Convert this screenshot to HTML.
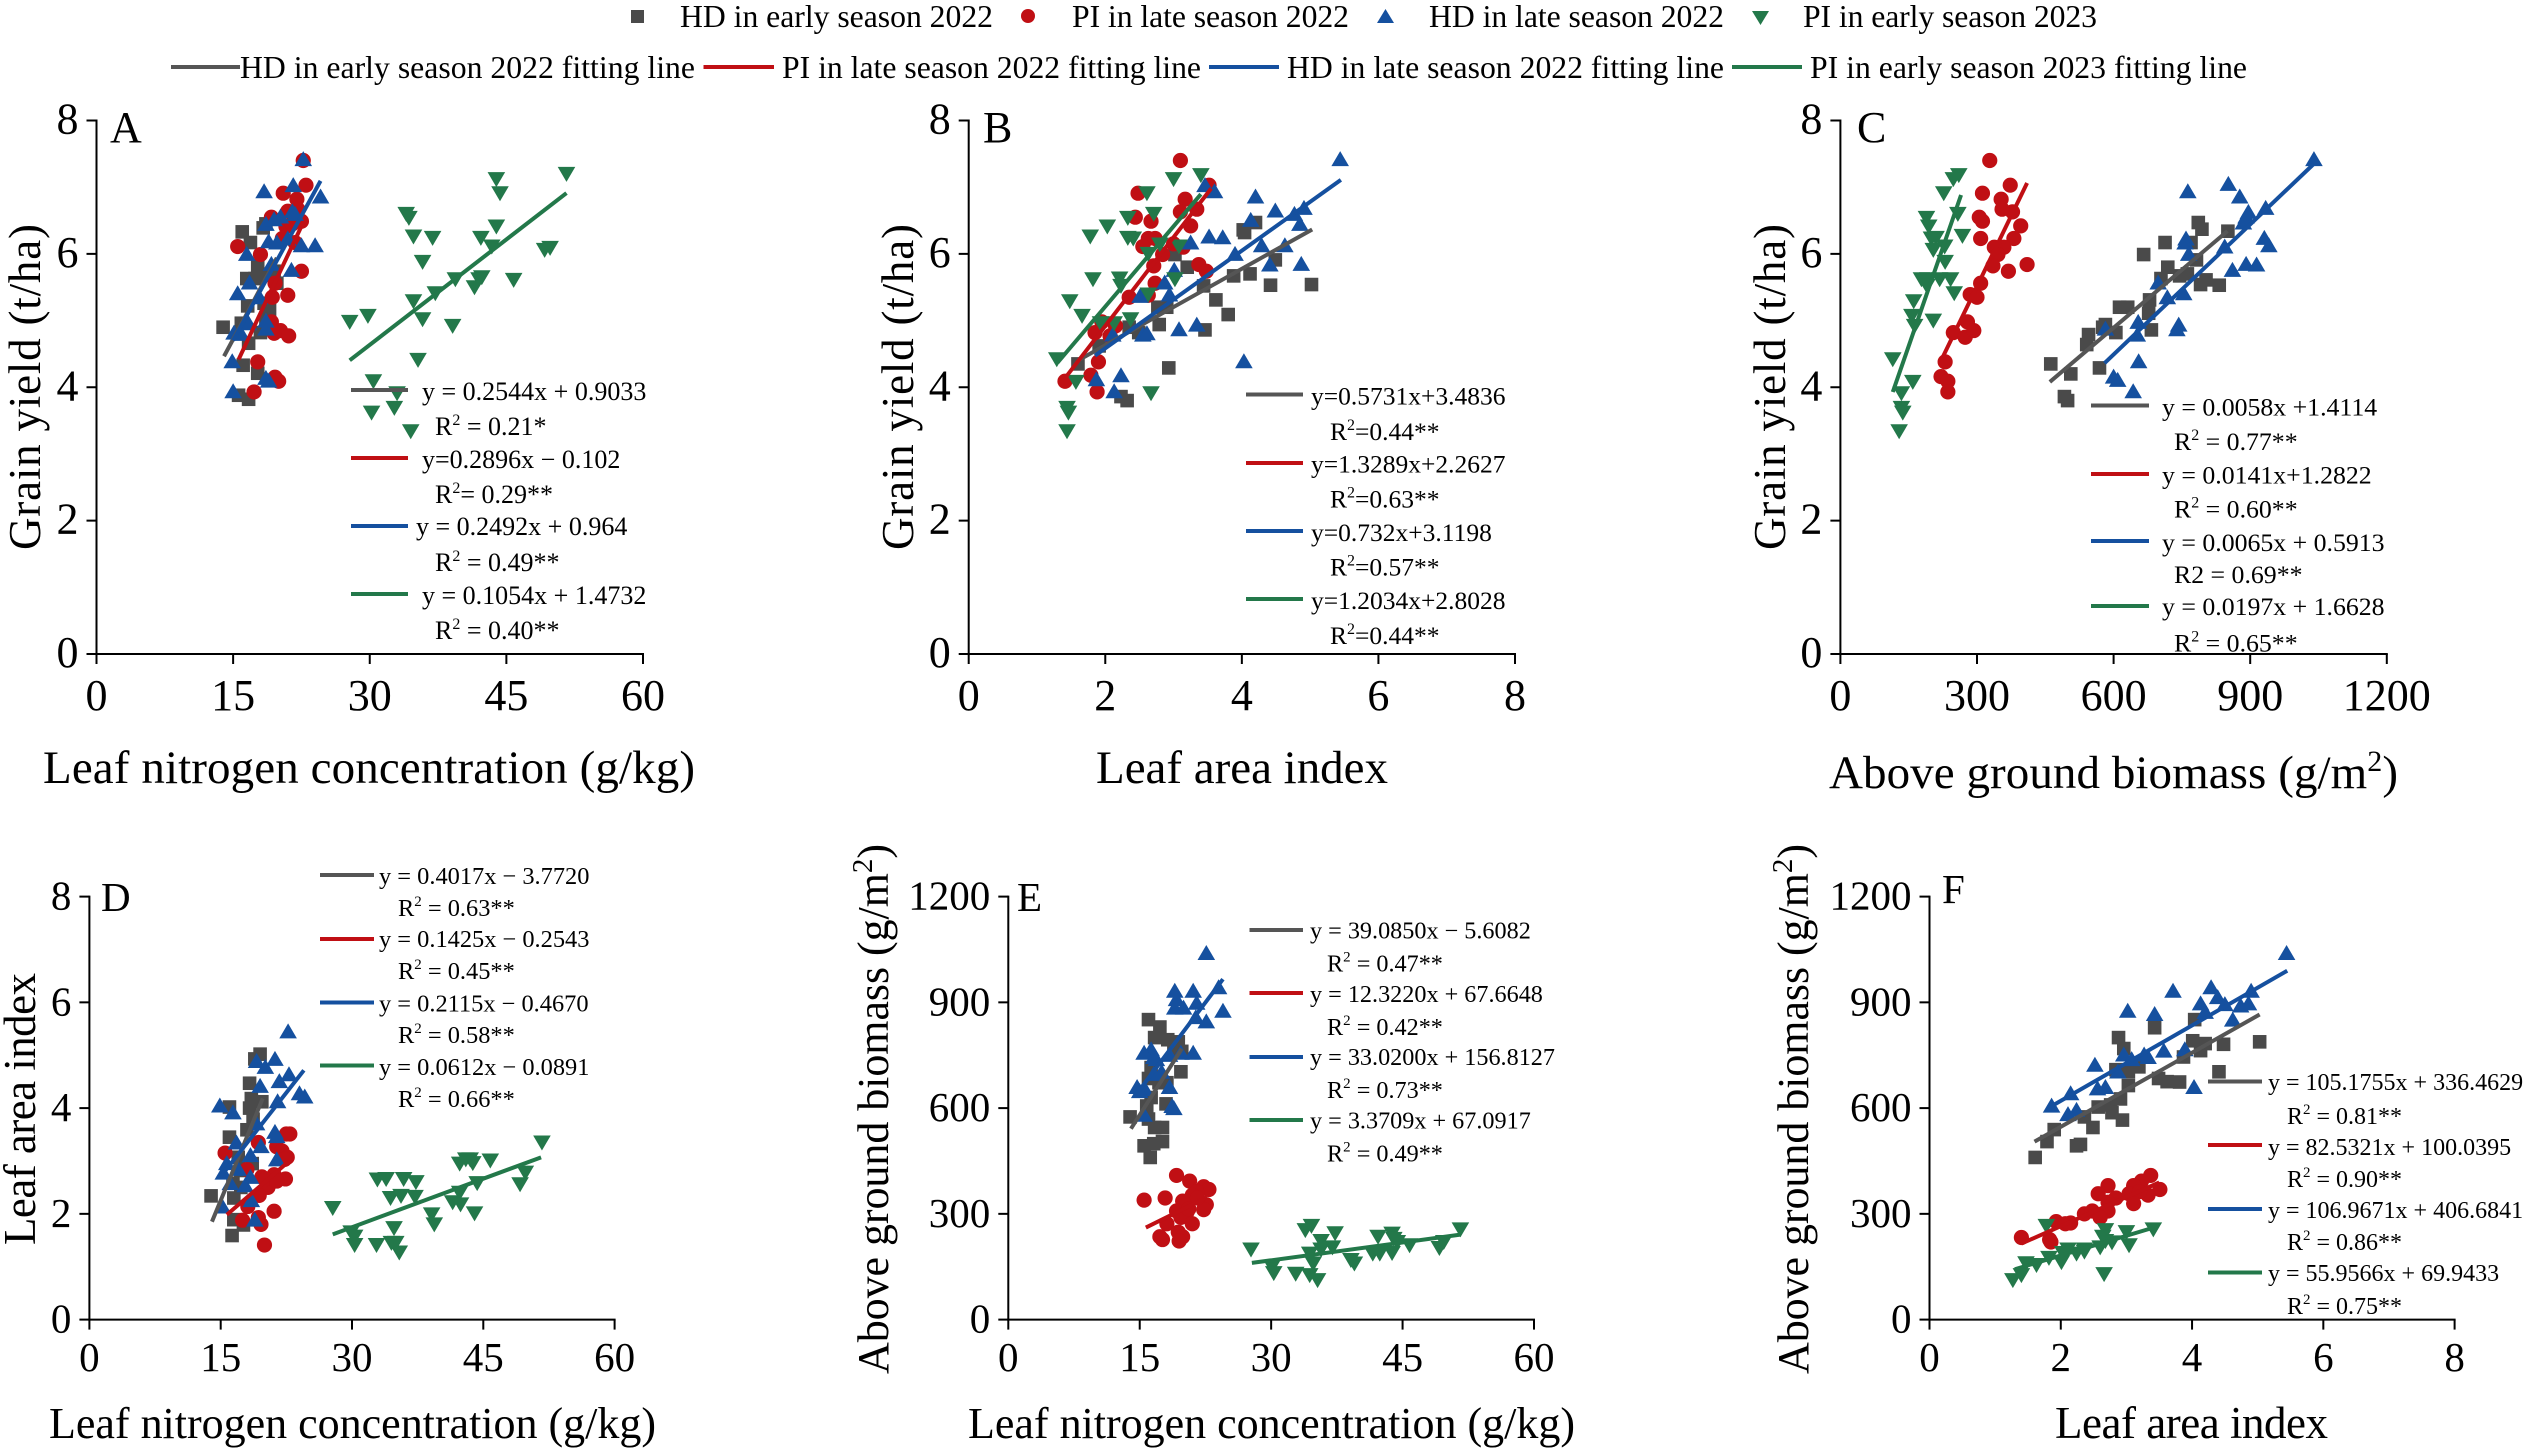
<!DOCTYPE html>
<html lang="en">
<head>
<meta charset="utf-8">
<title>Grain yield relationships</title>
<style>
html,body{margin:0;padding:0;background:#fff;}
svg{display:block;font-family:"Liberation Serif",serif;fill:#000;}
</style>
</head>
<body>
<svg id="chart" xmlns="http://www.w3.org/2000/svg" width="2531" height="1452" viewBox="0 0 2531 1452">
<rect x="0" y="0" width="2531" height="1452" fill="#fff"/>

<g id="legend" font-size="31.7">
<rect x="631" y="10" width="13" height="13" fill="#4a4a4a"/>
<text x="680" y="27" textLength="313">HD in early season 2022</text>
<circle cx="1028" cy="16" r="7" fill="#c00f14"/>
<text x="1072" y="27" textLength="277">PI in late season 2022</text>
<polygon points="1377,23 1394,23 1385.5,9" fill="#15509f"/>
<text x="1429" y="27" textLength="295">HD in late season 2022</text>
<polygon points="1752,11 1769,11 1760.5,25" fill="#23784a"/>
<text x="1803" y="27" textLength="294">PI in early season 2023</text>

<line x1="171" y1="67" x2="240" y2="67" stroke="#555" stroke-width="4"/>
<text x="240" y="78" textLength="455">HD in early season 2022 fitting line</text>
<line x1="703.5" y1="67" x2="774" y2="67" stroke="#c00f14" stroke-width="4"/>
<text x="782" y="78" textLength="419">PI in late season 2022 fitting line</text>
<line x1="1209" y1="67" x2="1279" y2="67" stroke="#15509f" stroke-width="4"/>
<text x="1287" y="78" textLength="437">HD in late season 2022 fitting line</text>
<line x1="1732" y1="67" x2="1802" y2="67" stroke="#23784a" stroke-width="4"/>
<text x="1810" y="78" textLength="437">PI in early season 2023 fitting line</text>
</g>

<g id="plots"></g>

<g font-size="44">
<text x="110" y="142">A</text>
<text x="983" y="142">B</text>
<text x="1857" y="142">C</text>
<text x="101" y="911" font-size="41">D</text>
<text x="1017" y="911" font-size="41">E</text>
<text x="1942" y="903" font-size="41">F</text>
</g>

<g font-size="47">
<text x="43" y="783" textLength="652">Leaf nitrogen concentration (g/kg)</text>
<text x="1096" y="783" textLength="292">Leaf area index</text>
<text x="1829" y="788" textLength="569">Above ground biomass (g/m<tspan font-size="30" dy="-17">2</tspan><tspan dy="17">)</tspan></text>
<text x="49" y="1438" textLength="607" font-size="44">Leaf nitrogen concentration (g/kg)</text>
<text x="968" y="1438" textLength="607" font-size="44">Leaf nitrogen concentration (g/kg)</text>
<text x="2055" y="1438" textLength="273" font-size="45">Leaf area index</text>

<text transform="translate(40 550) rotate(-90)" textLength="326" font-size="45">Grain yield (t/ha)</text>
<text transform="translate(913 550) rotate(-90)" textLength="326" font-size="45">Grain yield (t/ha)</text>
<text transform="translate(1785 550) rotate(-90)" textLength="326" font-size="45">Grain yield (t/ha)</text>
<text transform="translate(35 1245) rotate(-90)" textLength="272" font-size="45">Leaf area index</text>
<text transform="translate(888 1374) rotate(-90)" textLength="530" font-size="44">Above ground biomass (g/m<tspan font-size="29" dy="-16">2</tspan><tspan dy="16">)</tspan></text>
<text transform="translate(1808 1374) rotate(-90)" textLength="530" font-size="44">Above ground biomass (g/m<tspan font-size="29" dy="-16">2</tspan><tspan dy="16">)</tspan></text>
</g>

<g font-size="26" stroke-width="4">
<line x1="351" y1="390" x2="408" y2="390" stroke="#555"/>
<text x="422" y="400">y = 0.2544x + 0.9033</text>
<text x="435" y="435">R<tspan font-size="16" dy="-10">2</tspan><tspan dy="10"> = 0.21*</tspan></text>
<line x1="351" y1="458" x2="408" y2="458" stroke="#c00f14"/>
<text x="422" y="468">y=0.2896x − 0.102</text>
<text x="435" y="503">R<tspan font-size="16" dy="-10">2</tspan><tspan dy="10">= 0.29**</tspan></text>
<line x1="351" y1="526" x2="408" y2="526" stroke="#15509f"/>
<text x="416" y="535">y = 0.2492x + 0.964</text>
<text x="435" y="571">R<tspan font-size="16" dy="-10">2</tspan><tspan dy="10"> = 0.49**</tspan></text>
<line x1="351" y1="594" x2="408" y2="594" stroke="#23784a"/>
<text x="422" y="604">y = 0.1054x + 1.4732</text>
<text x="435" y="639">R<tspan font-size="16" dy="-10">2</tspan><tspan dy="10"> = 0.40**</tspan></text>
</g>

<g font-size="25.5" stroke-width="4">
<line x1="1246" y1="394.5" x2="1303" y2="394.5" stroke="#555"/>
<text x="1311" y="404.5">y=0.5731x+3.4836</text>
<text x="1330" y="440">R<tspan font-size="16" dy="-10">2</tspan><tspan dy="10">=0.44**</tspan></text>
<line x1="1246" y1="463" x2="1303" y2="463" stroke="#c00f14"/>
<text x="1311" y="472.5">y=1.3289x+2.2627</text>
<text x="1330" y="507.5">R<tspan font-size="16" dy="-10">2</tspan><tspan dy="10">=0.63**</tspan></text>
<line x1="1246" y1="531" x2="1303" y2="531" stroke="#15509f"/>
<text x="1311" y="541">y=0.732x+3.1198</text>
<text x="1330" y="575.5">R<tspan font-size="16" dy="-10">2</tspan><tspan dy="10">=0.57**</tspan></text>
<line x1="1246" y1="599" x2="1303" y2="599" stroke="#23784a"/>
<text x="1311" y="609">y=1.2034x+2.8028</text>
<text x="1330" y="644">R<tspan font-size="16" dy="-10">2</tspan><tspan dy="10">=0.44**</tspan></text>
</g>

<g font-size="25.8" stroke-width="4">
<line x1="2091" y1="405.5" x2="2149" y2="405.5" stroke="#555"/>
<text x="2162" y="415.5">y = 0.0058x +1.4114</text>
<text x="2174" y="450">R<tspan font-size="16" dy="-10">2</tspan><tspan dy="10"> = 0.77**</tspan></text>
<line x1="2091" y1="474" x2="2149" y2="474" stroke="#c00f14"/>
<text x="2162" y="483.5">y = 0.0141x+1.2822</text>
<text x="2174" y="517.5">R<tspan font-size="16" dy="-10">2</tspan><tspan dy="10"> = 0.60**</tspan></text>
<line x1="2091" y1="541" x2="2149" y2="541" stroke="#15509f"/>
<text x="2162" y="551">y = 0.0065x + 0.5913</text>
<text x="2174" y="583">R2 = 0.69**</text>
<line x1="2091" y1="606" x2="2149" y2="606" stroke="#23784a"/>
<text x="2162" y="615">y = 0.0197x + 1.6628</text>
<text x="2174" y="651.5">R<tspan font-size="16" dy="-10">2</tspan><tspan dy="10"> = 0.65**</tspan></text>
</g>

<g font-size="24.4" stroke-width="4">
<line x1="320" y1="875" x2="374" y2="875" stroke="#555"/>
<text x="379" y="884">y = 0.4017x − 3.7720</text>
<text x="398" y="916">R<tspan font-size="15" dy="-10">2</tspan><tspan dy="10"> = 0.63**</tspan></text>
<line x1="320" y1="939" x2="374" y2="939" stroke="#c00f14"/>
<text x="379" y="947">y = 0.1425x − 0.2543</text>
<text x="398" y="979">R<tspan font-size="15" dy="-10">2</tspan><tspan dy="10"> = 0.45**</tspan></text>
<line x1="320" y1="1002.5" x2="374" y2="1002.5" stroke="#15509f"/>
<text x="379" y="1011.5">y = 0.2115x − 0.4670</text>
<text x="398" y="1043">R<tspan font-size="15" dy="-10">2</tspan><tspan dy="10"> = 0.58**</tspan></text>
<line x1="320" y1="1065.5" x2="374" y2="1065.5" stroke="#23784a"/>
<text x="379" y="1075">y = 0.0612x − 0.0891</text>
<text x="398" y="1107">R<tspan font-size="15" dy="-10">2</tspan><tspan dy="10"> = 0.66**</tspan></text>
</g>

<g font-size="24.2" stroke-width="4">
<line x1="1249.5" y1="930" x2="1303" y2="930" stroke="#555"/>
<text x="1310" y="938.5">y = 39.0850x − 5.6082</text>
<text x="1327" y="971.5">R<tspan font-size="15" dy="-10">2</tspan><tspan dy="10"> = 0.47**</tspan></text>
<line x1="1249.5" y1="993" x2="1303" y2="993" stroke="#c00f14"/>
<text x="1310" y="1002">y = 12.3220x + 67.6648</text>
<text x="1327" y="1035">R<tspan font-size="15" dy="-10">2</tspan><tspan dy="10"> = 0.42**</tspan></text>
<line x1="1249.5" y1="1057" x2="1303" y2="1057" stroke="#15509f"/>
<text x="1310" y="1065">y = 33.0200x + 156.8127</text>
<text x="1327" y="1098">R<tspan font-size="15" dy="-10">2</tspan><tspan dy="10"> = 0.73**</tspan></text>
<line x1="1249.5" y1="1120" x2="1303" y2="1120" stroke="#23784a"/>
<text x="1310" y="1128.5">y = 3.3709x + 67.0917</text>
<text x="1327" y="1161.5">R<tspan font-size="15" dy="-10">2</tspan><tspan dy="10"> = 0.49**</tspan></text>
</g>

<g font-size="24" stroke-width="4">
<line x1="2208" y1="1081.5" x2="2262" y2="1081.5" stroke="#555"/>
<text x="2268" y="1090">y = 105.1755x + 336.4629</text>
<text x="2287" y="1124">R<tspan font-size="15" dy="-10">2</tspan><tspan dy="10"> = 0.81**</tspan></text>
<line x1="2208" y1="1145" x2="2262" y2="1145" stroke="#c00f14"/>
<text x="2268" y="1155">y = 82.5321x + 100.0395</text>
<text x="2287" y="1187">R<tspan font-size="15" dy="-10">2</tspan><tspan dy="10"> = 0.90**</tspan></text>
<line x1="2208" y1="1209" x2="2262" y2="1209" stroke="#15509f"/>
<text x="2268" y="1218">y = 106.9671x + 406.6841</text>
<text x="2287" y="1250">R<tspan font-size="15" dy="-10">2</tspan><tspan dy="10"> = 0.86**</tspan></text>
<line x1="2208" y1="1272.5" x2="2262" y2="1272.5" stroke="#23784a"/>
<text x="2268" y="1281">y = 55.9566x + 69.9433</text>
<text x="2287" y="1314">R<tspan font-size="15" dy="-10">2</tspan><tspan dy="10"> = 0.75**</tspan></text>
</g>
</svg>

<script>
// Panel A: leaf nitrogen (x) vs grain yield (y)
const aGrayX=[13.9,16.0,18.3,18.6,16.9,17.7,16.5,18.6,16.6,18.4,15.9,18.6,18.0,16.7,16.1,17.7,15.6,16.7,19.0,19.8,19.5,17.4];
const aGrayY=[4.9,6.33,6.39,6.45,6.17,5.82,5.63,5.68,5.22,5.26,4.96,5.03,4.82,4.66,4.33,4.21,3.88,3.82,5.15,5.56,5.74,5.63];
const aRedX=[22.7,23.0,20.5,22.0,19.2,21.0,22.1,22.5,20.8,15.5,18.0,21.8,20.4,22.5,19.6,19.3,21.0,19.2,19.5,20.2,21.1,17.7,17.3,19.6,20.0,21.5];
const aRedY=[7.4,7.03,6.91,6.82,6.55,6.64,6.67,6.49,6.41,6.11,5.99,6.17,6.23,5.74,5.56,5.35,5.38,4.98,4.81,4.85,4.77,4.38,3.93,4.15,4.09,6.45];
const aBlueX=[22.7,21.6,18.4,24.6,21.5,20.2,21.8,18.6,19.5,18.9,19.8,21.0,24.0,22.5,21.4,16.5,19.2,15.5,16.8,17.9,15.1,15.9,16.7,18.6,18.6,14.9,15.0,18.6,18.9];
const aBlueY=[7.42,7.03,6.94,6.86,6.64,6.56,6.6,6.45,6.52,6.19,6.17,6.23,6.13,6.13,5.76,6.0,5.85,5.41,5.57,5.35,4.82,4.8,4.96,5.0,4.88,4.39,3.94,4.14,4.1];
const aGreenX=[51.6,43.9,44.3,34.0,34.3,43.9,34.8,36.9,42.2,43.4,49.8,49.2,35.8,39.4,42.3,42.0,41.5,45.8,37.2,34.8,27.8,29.8,35.8,39.1,35.3,30.4,33.0,30.2,32.7,34.5];
const aGreenY=[7.2,7.12,6.91,6.6,6.54,6.41,6.26,6.24,6.24,6.11,6.09,6.06,5.88,5.62,5.65,5.62,5.5,5.61,5.41,5.29,4.98,5.07,5.02,4.92,4.41,4.09,3.91,3.62,3.69,3.34];

// Panel B: leaf area index (x) vs grain yield (y)
const bGrayX=[1.6,1.91,2.35,2.49,2.79,2.77,2.9,2.93,3.02,3.2,3.44,3.62,3.46,3.8,3.88,4.12,4.42,4.49,4.02,4.04,4.2,5.02,2.23,2.32];
const bGrayY=[4.35,4.62,4.9,4.82,4.94,5.2,5.2,4.29,5.99,5.8,5.52,5.31,4.86,5.09,5.67,5.7,5.53,5.91,6.36,6.32,6.47,5.54,3.86,3.8];
const bRedX=[3.1,3.52,2.48,3.17,2.44,3.1,3.34,2.67,3.25,2.63,2.73,2.55,3.0,3.14,2.84,2.71,3.37,3.48,2.73,2.35,2.63,1.95,1.85,2.15,2.07,1.9,1.79,1.41,1.88];
const bRedY=[7.4,7.03,6.91,6.82,6.55,6.63,6.67,6.49,6.42,6.23,6.23,6.11,6.15,6.1,5.99,5.82,5.84,5.74,5.56,5.35,5.38,4.98,4.82,4.92,4.77,4.38,4.18,4.09,3.93];
const bBlueX=[5.44,3.46,3.6,4.2,4.13,4.49,4.77,4.91,4.85,3.25,3.52,3.72,4.29,4.63,3.9,3.01,4.41,4.87,2.87,2.94,2.51,3.08,3.34,2.55,2.61,2.11,4.03,2.23,1.87,2.13];
const bBlueY=[7.42,7.03,6.94,6.86,6.51,6.65,6.6,6.69,6.45,6.17,6.26,6.25,6.13,6.13,6.0,5.76,5.84,5.85,5.57,5.39,5.37,4.87,4.94,4.79,4.81,4.79,4.39,4.18,4.12,3.94];
const bGreenX=[3.4,3.0,2.61,2.71,2.33,2.03,1.78,2.33,2.41,2.8,3.08,2.63,1.82,2.21,2.23,3.02,1.48,1.66,2.63,2.37,2.13,1.93,1.29,1.57,2.67,1.44,1.46,1.44];
const bGreenY=[7.18,7.12,6.91,6.6,6.54,6.41,6.26,6.24,6.23,6.14,6.11,6.0,5.62,5.63,5.52,5.62,5.29,5.07,5.39,5.02,4.96,4.96,4.42,4.08,3.91,3.69,3.62,3.34];

// Panel C: above ground biomass (x) vs grain yield (y)
const cGrayX=[462,492,499,506,569,541,545,582,605,576,683,677,679,613,631,719,704,745,762,791,803,832,666,713,770,782,786,794,851];
const cGrayY=[4.35,3.86,3.8,4.2,4.29,4.64,4.79,4.94,4.82,4.9,4.86,5.11,5.31,5.2,5.2,5.8,5.63,5.67,5.7,5.54,5.61,5.53,5.99,6.17,6.17,5.91,6.47,6.37,6.34];
const cRedX=[328,373,312,353,305,312,378,355,396,308,381,338,359,346,410,335,369,308,285,300,279,248,274,293,230,221,236,236];
const cRedY=[7.4,7.03,6.91,6.82,6.55,6.49,6.63,6.67,6.42,6.23,6.23,6.1,6.1,5.99,5.84,5.82,5.74,5.56,5.39,5.35,4.98,4.82,4.75,4.85,4.38,4.16,4.09,3.93];
const cBlueX=[1040,852,877,763,934,896,891,885,931,941,759,757,844,765,891,914,861,698,718,754,743,739,654,652,582,655,600,609,643];
const cBlueY=[7.42,7.05,6.86,6.94,6.69,6.63,6.56,6.47,6.24,6.13,6.23,6.17,6.11,6.0,5.85,5.84,5.76,5.57,5.35,5.41,4.94,4.87,4.98,4.79,4.88,4.39,4.16,4.11,3.94];
const cGreenX=[260,248,227,189,194,258,210,200,268,229,204,230,178,192,218,242,190,250,161,157,204,163,115,159,134,134,137,129];
const cGreenY=[7.18,7.12,6.91,6.54,6.41,6.6,6.24,6.23,6.27,6.11,6.06,5.88,5.62,5.62,5.62,5.62,5.52,5.41,5.29,5.07,5.0,4.92,4.42,4.08,3.91,3.69,3.62,3.34];

// Panel D: leaf nitrogen (x) vs leaf area index (y)
const dGrayX=[19.5,16.0,18.3,18.5,19.7,18.3,18.7,18.0,16.0,18.6,17.0,13.9,16.5,16.4,17.3,16.5,17.6,16.3,18.9,17.3];
const dGrayY=[5.02,4.02,4.47,4.18,4.12,4.0,3.79,3.59,3.45,2.95,3.07,2.34,2.3,2.58,2.82,1.89,1.79,1.59,4.93,2.5];
const dRedX=[22.9,22.5,19.3,15.5,21.4,22.0,22.6,22.3,18.0,19.7,21.1,22.4,20.7,20.4,19.4,21.1,18.1,17.5,19.3,19.6,20.0,20.1,21.4];
const dRedY=[3.51,3.51,3.35,3.15,3.27,3.19,3.07,3.03,2.84,2.7,2.74,2.66,2.62,2.5,2.35,2.05,2.14,1.88,1.93,1.8,1.41,2.66,2.62];
const dBlueX=[22.7,19.1,20.1,21.2,22.8,21.7,19.5,24.0,24.6,21.5,14.9,16.4,19.1,21.2,21.4,19.6,16.8,15.7,18.4,21.4,15.3,17.0,18.4,17.8,16.1,18.5,15.2,18.9];
const dBlueY=[5.45,4.89,4.78,4.93,4.64,4.51,4.42,4.28,4.22,4.13,4.05,3.92,3.71,3.55,3.47,3.28,3.35,2.96,3.11,3.03,2.78,2.85,2.7,2.54,2.58,2.26,2.14,1.89];
const dGreenX=[51.7,45.8,43.0,43.5,42.3,43.8,49.8,49.2,32.9,33.9,35.9,37.3,34.4,35.6,37.2,44.3,42.3,41.5,42.4,44.0,39.1,39.4,34.8,27.8,29.9,30.3,30.3,32.8,34.5,35.0,35.4];
const dGreenY=[3.35,3.01,3.03,3.03,2.95,2.96,2.78,2.56,2.65,2.66,2.66,2.6,2.3,2.34,2.32,2.58,2.4,2.22,2.18,2.01,1.99,1.8,1.73,2.11,1.65,1.57,1.41,1.41,1.45,1.45,1.27];

// Panel E: leaf nitrogen (x) vs above ground biomass (y)
const eGrayX=[16.0,17.3,16.7,18.2,19.4,19.8,18.9,19.7,18.1,17.2,16.3,16.0,16.3,18.0,15.8,13.9,16.0,16.7,17.6,17.6,16.6,15.5,16.2];
const eGrayY=[851,830,800,794,788,761,766,703,672,672,715,684,630,612,606,575,569,545,545,505,499,493,460];
const eRedX=[19.2,20.7,22.3,22.9,21.5,21.0,15.5,17.9,19.9,22.6,22.3,19.2,20.4,19.7,18.1,21.0,19.4,19.9,17.3,17.6,19.5,21.6,20.6];
const eRedY=[409,393,377,369,363,353,339,345,336,326,312,308,305,290,272,272,248,235,235,227,223,345,314];
const eBlueX=[22.6,24.0,19.0,21.1,19.2,21.5,19.0,20.0,24.5,21.4,22.6,16.3,15.5,16.6,16.9,21.1,19.7,18.4,17.5,16.6,14.7,15.6,18.4,15.0,18.7,15.5,18.9];
const eBlueY=[1040,943,933,933,909,899,885,885,876,858,846,767,757,745,739,757,757,751,703,697,660,654,660,648,606,581,600];
const eGreenX=[51.6,34.6,33.9,37.3,42.2,43.8,44.0,35.7,44.4,37.0,35.7,45.8,27.7,49.7,49.2,34.4,41.6,42.4,43.8,34.8,39.1,30.1,30.3,32.8,34.4,35.3,39.5];
const eGreenY=[256,266,254,245,235,244,229,223,220,205,199,211,199,220,203,187,187,187,189,159,169,150,132,130,126,112,159];

// Panel F: leaf area index (x) vs above ground biomass (y)
const fGrayX=[1.61,1.79,1.9,2.24,2.3,2.49,2.36,2.57,2.76,2.78,2.94,2.91,2.84,3.03,3.03,3.19,2.88,2.96,3.43,3.49,3.62,3.81,3.87,4.01,4.04,4.13,4.2,4.48,4.41,5.03];
const fGrayY=[460,505,539,493,497,545,575,603,609,587,566,626,709,703,664,717,800,769,828,684,675,674,745,791,851,763,783,781,703,788];
const fRedX=[3.37,3.23,2.72,3.11,2.57,3.51,3.33,2.84,3.04,3.2,3.11,2.72,2.36,2.48,2.72,2.6,1.93,2.15,2.07,1.4,1.83,1.85];
const fRedY=[409,393,380,380,357,369,353,345,357,363,329,333,300,308,308,290,278,274,272,233,227,220];
const fBlueX=[5.44,4.9,3.71,4.29,4.39,4.13,4.5,4.2,3.02,3.43,4.74,4.86,4.62,3.57,3.89,3.27,2.96,3.08,3.33,2.52,2.87,2.15,2.68,2.56,1.86,2.11,2.24,4.03];
const fBlueY=[1040,933,933,943,915,897,895,873,876,867,891,897,851,763,767,752,752,739,745,723,704,642,660,656,607,583,595,660];
const fGreenX=[3.41,3.0,2.68,1.78,2.64,2.68,2.78,3.04,2.6,2.11,2.36,2.03,2.24,1.82,2.01,1.63,1.47,1.4,1.27,2.66,2.36];
const fGreenY=[256,248,254,266,235,223,219,211,205,199,199,189,187,175,163,155,160,126,112,129,193];

// Fit lines, order gray, red, blue, green
const aSlope=[0.2544,0.2896,0.2492,0.1054], aIntercept=[0.9033,-0.102,0.964,1.4732], aFitFrom=[14,15.6,15,27.8], aFitTo=[19.8,22.7,24.6,51.6];
const bSlope=[0.5731,1.3289,0.732,1.2034], bIntercept=[3.4836,2.2627,3.1198,2.8028], bFitFrom=[1.6,1.4,1.85,1.3], bFitTo=[5.03,3.55,5.45,3.4];
const cSlope=[0.0058,0.0141,0.0065,0.0197], cIntercept=[1.4114,1.2822,0.5913,1.6628], cFitFrom=[460,225,580,115], cFitTo=[850,410,1040,265];
const dSlope=[0.4017,0.1425,0.2115,0.0612], dIntercept=[-3.772,-0.2543,-0.467,-0.0891], dFitFrom=[14,15.7,15,27.8], dFitTo=[19.8,22.7,24.5,51.6];
const eSlope=[39.085,12.322,33.02,3.3709], eIntercept=[-5.6082,67.6648,156.8127,67.0917], eFitFrom=[14,15.7,14.6,27.8], eFitTo=[19.8,22.7,24.5,51.6];
const fSlope=[105.1755,82.5321,106.9671,55.9566], fIntercept=[336.4629,100.0395,406.6841,69.9433], fFitFrom=[1.6,1.4,1.85,1.3], fFitTo=[5.03,3.5,5.45,3.4];

// Tick labels
const nitrogenTicks=[0,15,30,45,60];
const laiTicks=[0,2,4,6,8];
const biomassTicks=[0,300,600,900,1200];

const panels=[
 {id:'a',px:[96.5,643],py:[654,120.5],xt:nitrogenTicks,yt:laiTicks,lab:710,font:44,
  s:[[aGrayX,aGrayY],[aRedX,aRedY],[aBlueX,aBlueY],[aGreenX,aGreenY]],f:[aSlope,aIntercept,aFitFrom,aFitTo]},
 {id:'b',px:[968.7,1515],py:[654,120.5],xt:laiTicks,yt:laiTicks,lab:710,font:44,
  s:[[bGrayX,bGrayY],[bRedX,bRedY],[bBlueX,bBlueY],[bGreenX,bGreenY]],f:[bSlope,bIntercept,bFitFrom,bFitTo]},
 {id:'c',px:[1840.4,2386.8],py:[654,120.5],xt:biomassTicks,yt:laiTicks,lab:710,font:44,
  s:[[cGrayX,cGrayY],[cRedX,cRedY],[cBlueX,cBlueY],[cGreenX,cGreenY]],f:[cSlope,cIntercept,cFitFrom,cFitTo]},
 {id:'d',px:[89.4,614.6],py:[1319.6,896.6],xt:nitrogenTicks,yt:laiTicks,lab:1371,font:41,
  s:[[dGrayX,dGrayY],[dRedX,dRedY],[dBlueX,dBlueY],[dGreenX,dGreenY]],f:[dSlope,dIntercept,dFitFrom,dFitTo]},
 {id:'e',px:[1008.3,1534],py:[1319.6,896.6],xt:nitrogenTicks,yt:biomassTicks,lab:1371,font:41,
  s:[[eGrayX,eGrayY],[eRedX,eRedY],[eBlueX,eBlueY],[eGreenX,eGreenY]],f:[eSlope,eIntercept,eFitFrom,eFitTo]},
 {id:'f',px:[1929.5,2454.6],py:[1319.6,896.6],xt:laiTicks,yt:biomassTicks,lab:1371,font:41,
  s:[[fGrayX,fGrayY],[fRedX,fRedY],[fBlueX,fBlueY],[fGreenX,fGreenY]],f:[fSlope,fIntercept,fFitFrom,fFitTo]}
];

const seriesNames=['hd-early-2022','pi-late-2022','hd-late-2022','pi-early-2023'];
const seriesFill=['#4a4a4a','#c00f14','#15509f','#23784a'];
const lineStroke=['#555555','#c00f14','#15509f','#23784a'];

const NS='http://www.w3.org/2000/svg';
const plots=document.getElementById('plots');

function make(parent,tag,attrs){
  const el=document.createElementNS(NS,tag);
  for(const k in attrs){el.setAttribute(k,attrs[k]);}
  parent.appendChild(el);
  return el;
}

function drawMarker(parent,kind,cx,cy,label){
  let el;
  if(kind===0){
    el=make(parent,'rect',{x:cx-6.8,y:cy-6.8,width:13.6,height:13.6,fill:seriesFill[0]});
  }else if(kind===1){
    el=make(parent,'circle',{cx:cx,cy:cy,r:7.6,fill:seriesFill[1]});
  }else if(kind===2){
    el=make(parent,'polygon',{points:(cx-8.8)+','+(cy+7)+' '+(cx+8.8)+','+(cy+7)+' '+cx+','+(cy-8),fill:seriesFill[2]});
  }else{
    el=make(parent,'polygon',{points:(cx-8.8)+','+(cy-7)+' '+(cx+8.8)+','+(cy-7)+' '+cx+','+(cy+8),fill:seriesFill[3]});
  }
  
  
}

panels.forEach(function(p){
  const xMax=p.xt[p.xt.length-1], yMax=p.yt[p.yt.length-1];
  const sx=function(v){return p.px[0]+(v/xMax)*(p.px[1]-p.px[0]);};
  const sy=function(v){return p.py[0]+(v/yMax)*(p.py[1]-p.py[0]);};

  const g=make(plots,'g',{});
  
  

  const xAxis=make(g,'line',{x1:p.px[0]-1,y1:p.py[0],x2:p.px[1]+1,y2:p.py[0],stroke:'#000','stroke-width':2});
  
  
  const yAxis=make(g,'line',{x1:p.px[0],y1:p.py[0]+1,x2:p.px[0],y2:p.py[1]-1,stroke:'#000','stroke-width':2});
  
  

  p.xt.forEach(function(t){
    const tick=make(g,'line',{x1:sx(t),y1:p.py[0],x2:sx(t),y2:p.py[0]+10,stroke:'#000','stroke-width':2});
    
    
    const lab=make(g,'text',{x:sx(t),y:p.lab,'text-anchor':'middle','font-size':p.font});
    lab.textContent=String(t);
    
    
  });
  p.yt.forEach(function(t){
    const tick=make(g,'line',{x1:p.px[0]-10,y1:sy(t),x2:p.px[0],y2:sy(t),stroke:'#000','stroke-width':2});
    
    
    const lab=make(g,'text',{x:p.px[0]-18,y:sy(t)+13,'text-anchor':'end','font-size':p.font});
    lab.textContent=String(t);
    
    
  });

  p.s.forEach(function(pair,k){
    const sg=make(g,'g',{});
    
    
    pair[0].forEach(function(xv,i){
      drawMarker(sg,k,sx(xv),sy(pair[1][i]),'point-'+seriesNames[k]);
    });
  });

  for(let k=0;k<4;k++){
    const m=p.f[0][k], b=p.f[1][k], from=p.f[2][k], to=p.f[3][k];
    const fit=make(g,'line',{x1:sx(from),y1:sy(m*from+b),x2:sx(to),y2:sy(m*to+b),stroke:lineStroke[k],'stroke-width':4});
    
    
  }
});
</script>
</body>
</html>
